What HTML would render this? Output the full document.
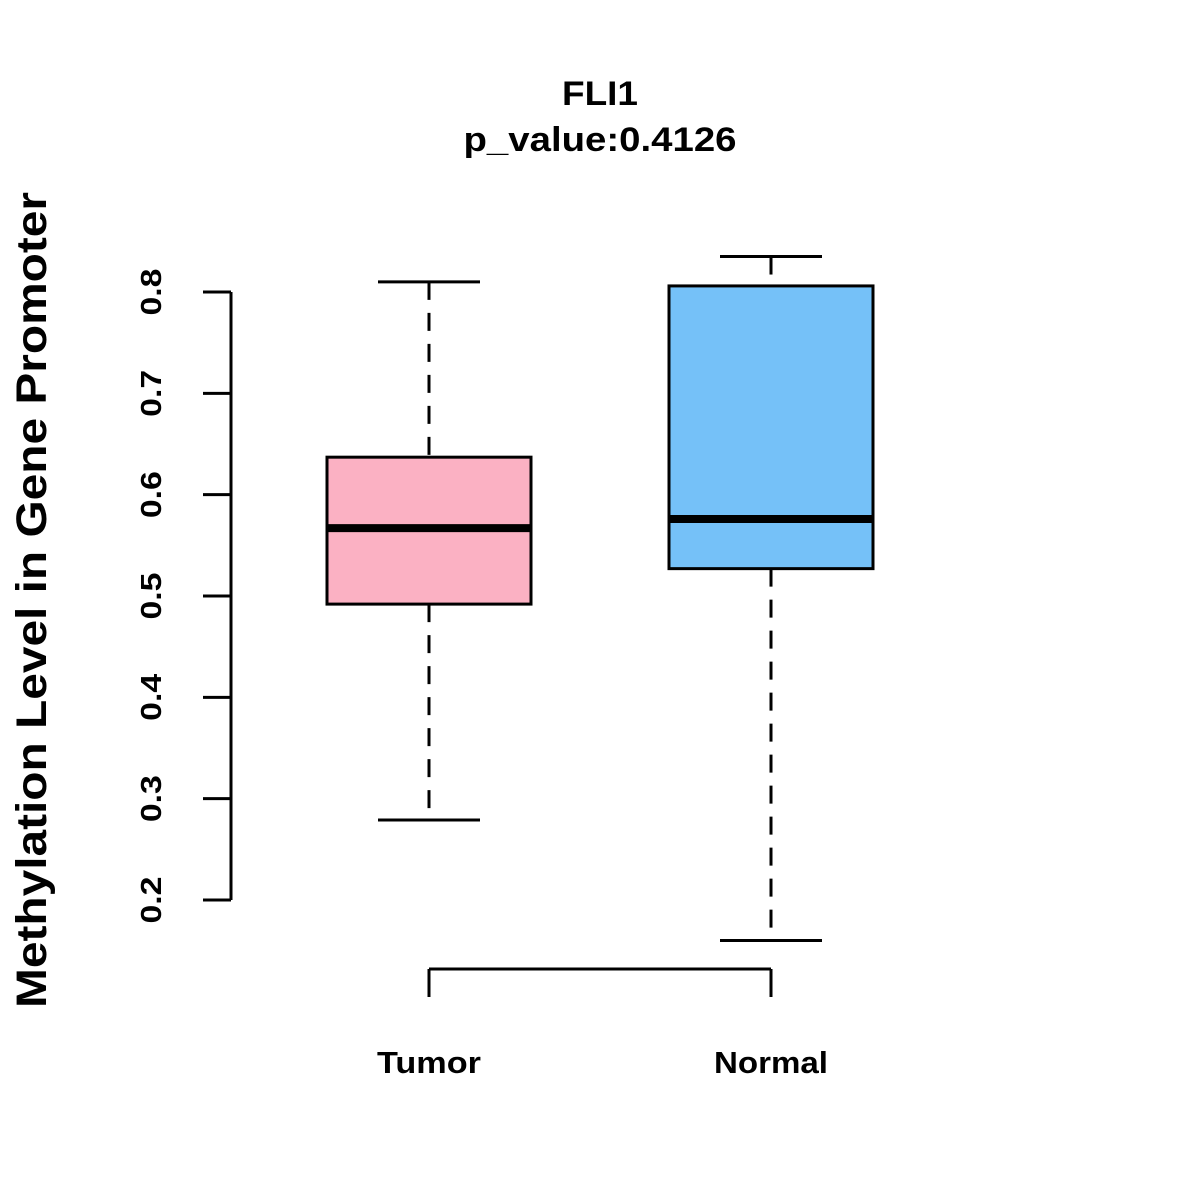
<!DOCTYPE html>
<html><head><meta charset="utf-8"><style>
html,body{margin:0;padding:0;background:#fff;width:1200px;height:1200px;overflow:hidden}
text{font-family:"Liberation Sans",Arial,sans-serif;font-weight:bold;fill:#000}
</style></head><body>
<svg id="chart" width="1200" height="1200" viewBox="0 0 1200 1200" xmlns="http://www.w3.org/2000/svg">
<rect width="1200" height="1200" fill="#fff"/>
<text x="600" y="105" font-size="34" text-anchor="middle" textLength="76" lengthAdjust="spacingAndGlyphs">FLI1</text>
<text x="600" y="151" font-size="34" text-anchor="middle" textLength="273" lengthAdjust="spacingAndGlyphs">p_value:0.4126</text>
<text transform="translate(46,600) rotate(-90)" font-size="43" text-anchor="middle" textLength="816" lengthAdjust="spacingAndGlyphs">Methylation Level in Gene Promoter</text>
<g id="yaxis"></g>
<g id="xaxis"></g>
<g id="boxes"></g>
</svg>
<script>
const categories = ["Tumor", "Normal"];
const whiskerLow = [0.279, 0.160];
const q1 = [0.492, 0.527];
const median = [0.567, 0.576];
const q3 = [0.637, 0.806];
const whiskerHigh = [0.810, 0.835];
const yTicks = [0.2, 0.3, 0.4, 0.5, 0.6, 0.7, 0.8];
const yTickLabels = ["0.2", "0.3", "0.4", "0.5", "0.6", "0.7", "0.8"];
const colors = ["#FBB1C3", "#75C1F8"];

const NS = "http://www.w3.org/2000/svg";
function y(v){ return 900 - (v - 0.2) * 1013.33; }
function x(i){ return 429 + i * 342; }
function mk(parent, tag, attrs){
  const e = document.createElementNS(NS, tag);
  for (const k in attrs) e.setAttribute(k, attrs[k]);
  parent.appendChild(e);
  return e;
}
const ya = document.getElementById('yaxis');
let l = mk(ya, 'line', {x1:231, x2:231, y1:y(yTicks[0]), y2:y(yTicks[yTicks.length-1]), stroke:'#000', 'stroke-width':3});


yTicks.forEach((t, i) => {
  const tk = mk(ya, 'line', {x1:203, x2:231, y1:y(t), y2:y(t), stroke:'#000', 'stroke-width':3});
  
  
  const tx = mk(ya, 'text', {transform:`translate(161,${y(t)}) rotate(-90)`, 'font-size':29, 'text-anchor':'middle', textLength:47, lengthAdjust:'spacingAndGlyphs'});
  tx.textContent = yTickLabels[i];
  
  
});
const xLens = [104, 114];
const xa = document.getElementById('xaxis');
l = mk(xa, 'line', {x1:x(0), x2:x(categories.length-1), y1:969, y2:969, stroke:'#000', 'stroke-width':3});


categories.forEach((c, i) => {
  const tk = mk(xa, 'line', {x1:x(i), x2:x(i), y1:969, y2:997, stroke:'#000', 'stroke-width':3});
  
  
  const tx = mk(xa, 'text', {x:x(i), y:1073, 'font-size':31, 'text-anchor':'middle', textLength:xLens[i], lengthAdjust:'spacingAndGlyphs'});
  tx.textContent = c;
  
  
});
const bx = document.getElementById('boxes');
categories.forEach((c, i) => {
  const cx = x(i);
  const g = mk(bx, 'g', {});
  
  
  const d = {stroke:'#000', 'stroke-width':3, 'stroke-dasharray':'18,13'};
  mk(g, 'line', Object.assign({x1:cx, x2:cx, y1:y(whiskerHigh[i]), y2:y(q3[i])}, d));
  mk(g, 'line', Object.assign({x1:cx, x2:cx, y1:y(q1[i]), y2:y(whiskerLow[i])}, d));
  mk(g, 'line', {x1:cx-51, x2:cx+51, y1:y(whiskerHigh[i]), y2:y(whiskerHigh[i]), stroke:'#000', 'stroke-width':3});
  mk(g, 'line', {x1:cx-51, x2:cx+51, y1:y(whiskerLow[i]), y2:y(whiskerLow[i]), stroke:'#000', 'stroke-width':3});
  mk(g, 'rect', {x:cx-102, y:y(q3[i]), width:204, height:y(q1[i])-y(q3[i]), fill:colors[i], stroke:'#000', 'stroke-width':3});
  mk(g, 'line', {x1:cx-102, x2:cx+102, y1:y(median[i]), y2:y(median[i]), stroke:'#000', 'stroke-width':8});
});
</script>
</body></html>
